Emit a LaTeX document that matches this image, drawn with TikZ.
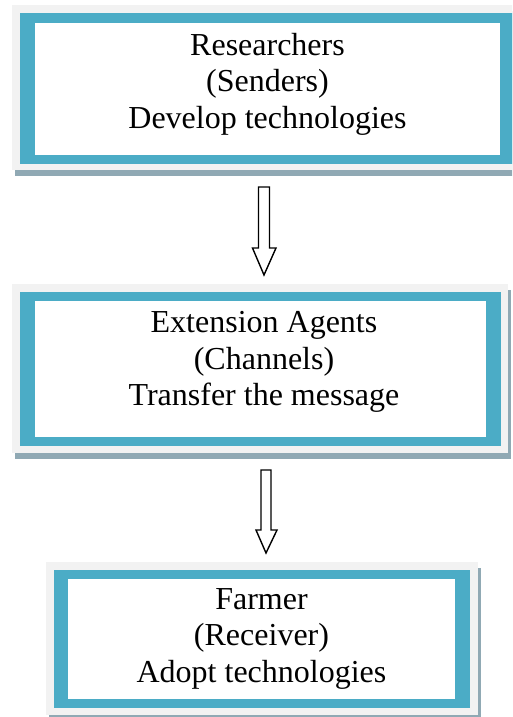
\documentclass[tikz,border=0pt]{standalone}
\usepackage{fontspec}
\setmainfont{Liberation Serif}
\definecolor{teal1}{HTML}{4BACC6}
\definecolor{frame1}{HTML}{F2F2F2}
\definecolor{shadow1}{HTML}{90A9B4}
\begin{document}
\begin{tikzpicture}[x=1pt,y=-1pt,
  boxtext/.style={align=center,inner sep=0pt,font=\fontsize{32}{36.5}\selectfont},
  hollowarrow/.style={draw=black,fill=white,line width=1.4pt,line join=miter}]
\path[clip] (0,0) rectangle (512,717);
\fill[white] (0,0) rectangle (512,717);
% Box 1
\fill[shadow1] (15,11) rectangle (523,176);
\fill[frame1] (12,5) rectangle (520,170);
\fill[teal1] (20,13) rectangle (515,164);
\node[fill=white,inner sep=0pt,minimum width=465pt,minimum height=132pt] (b1) at (267.5,89) {};
\node[boxtext] (t1) at (267.5,84) {Researchers\\(Senders)\\Develop technologies};
% Box 2
\fill[shadow1] (15,290) rectangle (511,459);
\fill[frame1] (12,284) rectangle (508,453);
\fill[teal1] (20,292) rectangle (501,446);
\node[fill=white,inner sep=0pt,minimum width=451pt,minimum height=136pt] (b2) at (260.5,369) {};
\node[boxtext] (t2) at (264,362) {Extension Agents\\(Channels)\\Transfer the message};
% Box 3
\fill[shadow1] (49,568) rectangle (481,721);
\fill[frame1] (46,562) rectangle (478,715);
\fill[teal1] (54,570) rectangle (470,708);
\node[fill=white,inner sep=0pt,minimum width=387pt,minimum height=120pt] (b3) at (261.5,639) {};
\node[boxtext] (t3) at (261.5,638.5) {Farmer\\(Receiver)\\Adopt technologies};
% Arrows
\coordinate (a1) at (264,187);
\coordinate (a2) at (266,470);
\draw[hollowarrow] ([xshift=-5.5pt]a1) -- ++(0,61) -- ++(-6,0) -- (264,275) -- (276,248) -- (269.5,248) -- (269.5,187) -- cycle;
\draw[hollowarrow] ([xshift=-5pt]a2) -- ++(0,60) -- ++(-5,0) -- (266,553) -- (277,530) -- (271,530) -- (271,470) -- cycle;
\end{tikzpicture}
\end{document}
